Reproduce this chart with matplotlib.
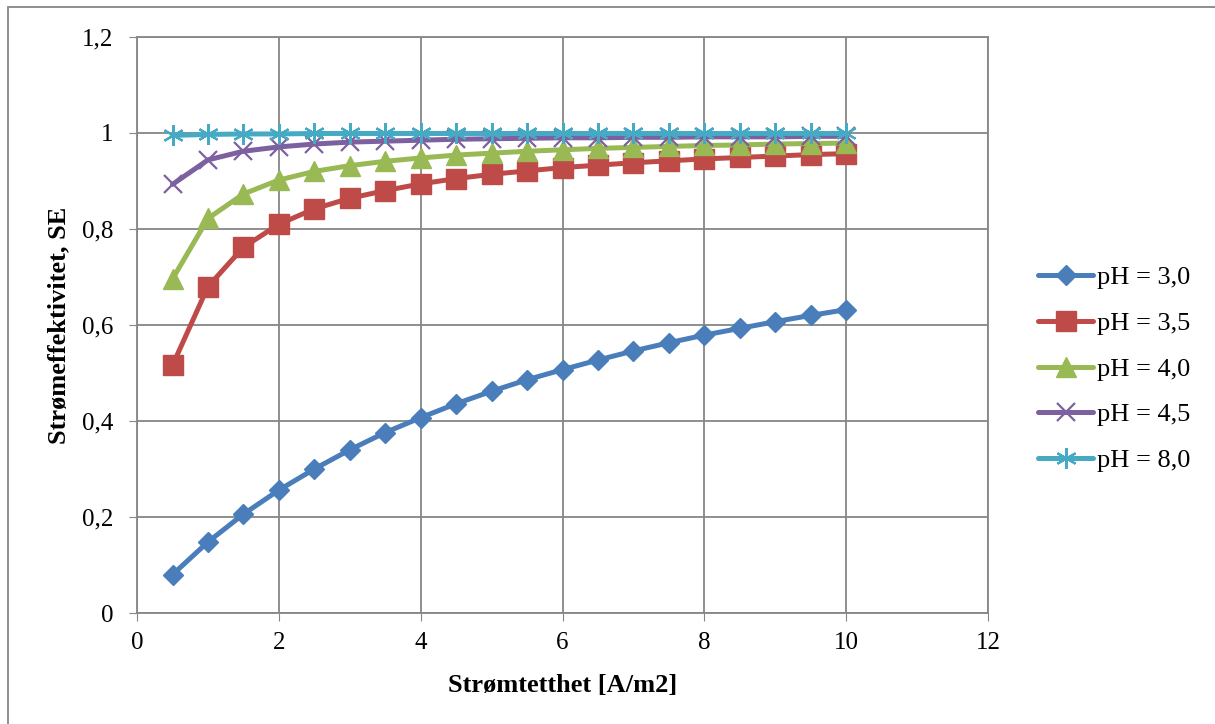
import matplotlib
matplotlib.use('Agg')
import matplotlib.pyplot as plt
from matplotlib.ticker import FuncFormatter, MultipleLocator
from matplotlib.patches import Rectangle

# Data
strom = [0.5, 1, 1.5, 2, 2.5, 3, 3.5, 4, 4.5, 5,
         5.5, 6, 6.5, 7, 7.5, 8, 8.5, 9, 9.5, 10]
se_ph30 = [0.080, 0.148, 0.206, 0.256, 0.300, 0.340, 0.376, 0.407, 0.436, 0.462,
           0.486, 0.507, 0.527, 0.546, 0.563, 0.579, 0.593, 0.607, 0.620, 0.632]
se_ph35 = [0.516, 0.680, 0.762, 0.810, 0.842, 0.864, 0.880, 0.894, 0.905, 0.914,
           0.921, 0.928, 0.933, 0.938, 0.942, 0.946, 0.949, 0.952, 0.955, 0.957]
se_ph40 = [0.696, 0.822, 0.873, 0.902, 0.920, 0.932, 0.941, 0.948, 0.954, 0.958,
           0.962, 0.965, 0.968, 0.970, 0.972, 0.974, 0.975, 0.977, 0.978, 0.979]
se_ph45 = [0.893, 0.944, 0.962, 0.971, 0.977, 0.981, 0.983, 0.985, 0.987, 0.988,
           0.989, 0.990, 0.990, 0.991, 0.991, 0.992, 0.992, 0.992, 0.993, 0.993]
se_ph80 = [0.995, 0.997, 0.998, 0.998, 0.999, 0.999, 0.999, 0.999, 0.999, 0.999,
           0.999, 0.999, 0.999, 0.999, 0.999, 0.999, 0.999, 0.999, 0.999, 0.999]
labels = ['pH = 3,0', 'pH = 3,5', 'pH = 4,0', 'pH = 4,5', 'pH = 8,0']

plt.rcParams['font.family'] = ['Liberation Serif', 'DejaVu Serif']

fig = plt.figure(figsize=(12.15, 7.24), dpi=100)
ax = fig.add_axes([0.1128, 0.1533, 0.7004, 0.7956])

series = [
    (se_ph30, '#4A7EBB', dict(marker='D', ms=10)),
    (se_ph35, '#BE4B48', dict(marker='s', ms=14)),
    (se_ph40, '#98B954', dict(marker='^', ms=14)),
    (se_ph45, '#7D60A0', dict(marker='x', ms=13, mew=1.6)),
    (se_ph80, '#46AAC5', dict(marker=(6, 2, 0), ms=15, mew=1.6)),
]
for (vals, color, mk), lab in zip(series, labels):
    ax.plot(strom, vals, color=color, lw=3.6, label=lab, solid_capstyle='round',
            markerfacecolor=color, markeredgecolor=color, **mk)

ax.set_xlim(0, 12)
ax.set_ylim(0, 1.2)
ax.xaxis.set_major_locator(MultipleLocator(2))
ax.yaxis.set_major_locator(MultipleLocator(0.2))
fmt = FuncFormatter(lambda v, p: f'{v:g}'.replace('.', ','))
ax.xaxis.set_major_formatter(fmt)
ax.yaxis.set_major_formatter(fmt)
ax.tick_params(labelsize=18, direction='out', length=6, color='#868686')
ax.tick_params(axis='x', pad=8)
ax.tick_params(axis='y', pad=11)
ax.grid(True, color='#868686', lw=1.3)
ax.set_axisbelow(True)
for s in ax.spines.values():
    s.set_color('#868686')
    s.set_linewidth(1.3)

ax.set_xlabel('Strømtetthet [A/m2]', fontsize=19, fontweight='bold', va='center')
ax.set_ylabel('Strømeffektivitet, SE', fontsize=19, fontweight='bold', va='center')
ax.xaxis.set_label_coords(0.5, -0.125)
ax.yaxis.set_label_coords(-0.092, 0.5)

ax.legend(loc='center left', bbox_to_anchor=(0.8543, 0.4903), bbox_transform=fig.transFigure,
          frameon=False, fontsize=19, handlelength=2.1, handletextpad=0.12,
          labelspacing=0.84, borderaxespad=0, borderpad=0)

# outer chart border (right and bottom edges fall outside the image)
fig.patches.append(Rectangle((0.0066, -0.05), 1.1, 1.0403, transform=fig.transFigure,
                             fill=False, edgecolor='#868686', lw=1.3))

fig.savefig('out.png', dpi=100)
